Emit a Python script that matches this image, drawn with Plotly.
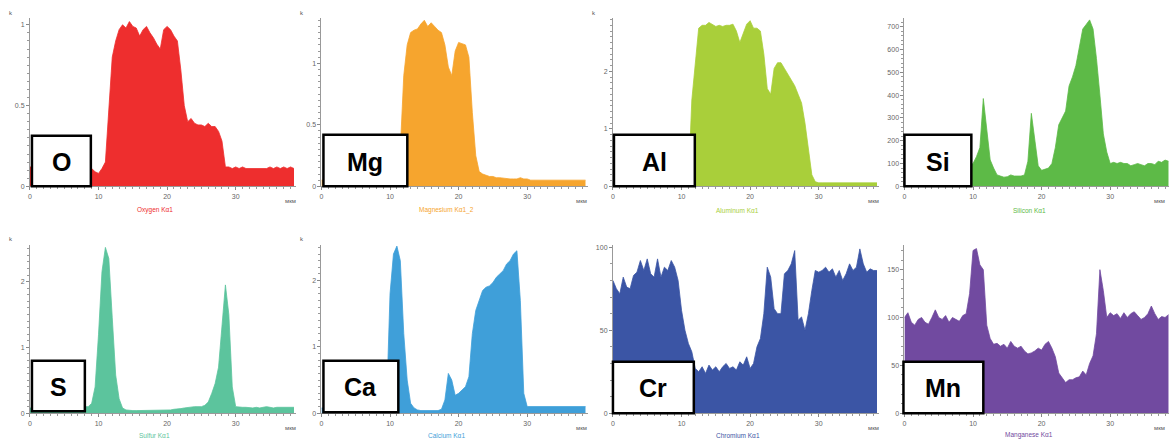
import plotly.graph_objects as go

W, H = 1169, 441

# ---------------- data ----------------
POSITION_UM = [
    0.0, 0.5, 1.0, 1.5, 2.0, 2.5, 3.0, 3.5, 4.0, 4.5,
    5.0, 5.5, 6.0, 6.5, 7.0, 7.5, 8.0, 8.5, 9.0, 9.5,
    10.0, 10.5, 11.0, 11.5, 12.0, 12.5, 13.0, 13.5, 14.0, 14.5,
    15.0, 15.5, 16.0, 16.5, 17.0, 17.5, 18.0, 18.5, 19.0, 19.5,
    20.0, 20.5, 21.0, 21.5, 22.0, 22.5, 23.0, 23.5, 24.0, 24.5,
    25.0, 25.5, 26.0, 26.5, 27.0, 27.5, 28.0, 28.5, 29.0, 29.5,
    30.0, 30.5, 31.0, 31.5, 32.0, 32.5, 33.0, 33.5, 34.0, 34.5,
    35.0, 35.5, 36.0, 36.5, 37.0, 37.5, 38.0, 38.5,
]

oxygen_k = [
    0.12, 0.12, 0.12, 0.12, 0.12, 0.12, 0.12, 0.12, 0.12, 0.12,
    0.12, 0.12, 0.12, 0.12, 0.12, 0.12, 0.12, 0.12, 0.11, 0.09,
    0.08, 0.11, 0.15, 0.45, 0.80, 0.90, 0.97, 1.00, 0.98, 1.02,
    0.99, 0.98, 0.93, 0.97, 0.99, 0.95, 0.92, 0.88, 0.85, 0.97,
    0.99, 0.97, 0.93, 0.90, 0.72, 0.50, 0.40, 0.42, 0.39, 0.38,
    0.38, 0.37, 0.39, 0.37, 0.37, 0.34, 0.28, 0.12, 0.12, 0.11,
    0.12, 0.11, 0.12, 0.11, 0.11, 0.11, 0.11, 0.11, 0.11, 0.11,
    0.12, 0.11, 0.12, 0.11, 0.12, 0.11, 0.12, 0.11,
]

magnesium_k = [
    0.05, 0.05, 0.05, 0.05, 0.05, 0.05, 0.05, 0.05, 0.05, 0.05,
    0.05, 0.05, 0.05, 0.05, 0.05, 0.05, 0.05, 0.05, 0.05, 0.05,
    0.05, 0.05, 0.05, 0.30, 0.90, 1.15, 1.25, 1.27, 1.28, 1.32,
    1.35, 1.30, 1.33, 1.30, 1.27, 1.25, 1.15, 0.97, 0.90, 1.10,
    1.17, 1.16, 1.15, 1.05, 0.60, 0.25, 0.12, 0.10, 0.09, 0.08,
    0.08, 0.07, 0.07, 0.065, 0.065, 0.06, 0.06, 0.06, 0.07, 0.06,
    0.06, 0.05, 0.05, 0.05, 0.05, 0.05, 0.045, 0.045, 0.045, 0.05,
    0.045, 0.05, 0.05, 0.05, 0.045, 0.05, 0.05, 0.05,
]

aluminum_k = [
    0.05, 0.05, 0.05, 0.05, 0.05, 0.05, 0.05, 0.05, 0.05, 0.05,
    0.05, 0.05, 0.05, 0.05, 0.05, 0.05, 0.05, 0.05, 0.05, 0.05,
    0.05, 0.05, 0.05, 1.50, 2.20, 2.75, 2.80, 2.80, 2.85, 2.82,
    2.78, 2.80, 2.78, 2.80, 2.80, 2.82, 2.70, 2.50, 2.65, 2.82,
    2.88, 2.75, 2.75, 2.70, 2.30, 1.70, 1.60, 2.05, 2.15, 2.15,
    2.05, 1.95, 1.85, 1.75, 1.60, 1.45, 1.10, 0.60, 0.20, 0.08,
    0.06, 0.06, 0.06, 0.06, 0.06, 0.06, 0.06, 0.06, 0.06, 0.06,
    0.06, 0.06, 0.06, 0.06, 0.06, 0.06, 0.06, 0.06,
]

silicon_counts = [
    90, 85, 90, 88, 92, 85, 90, 88, 85, 90,
    88, 92, 85, 90, 87, 90, 88, 85, 87, 90,
    100, 130, 170, 385, 250, 116, 80, 50, 45, 40,
    42, 50, 45, 45, 45, 50, 110, 320, 200, 90,
    70, 75, 80, 100, 170, 270, 300, 330, 440, 480,
    530, 620, 690, 710, 730, 690, 560, 400, 230, 150,
    100, 105, 100, 105, 100, 100, 90, 95, 100, 95,
    90, 100, 100, 95, 110, 105, 115, 110,
]

sulfur_k = [
    0.08, 0.08, 0.08, 0.08, 0.08, 0.08, 0.08, 0.08, 0.08, 0.08,
    0.08, 0.08, 0.08, 0.08, 0.08, 0.08, 0.10, 0.10, 0.15, 0.40,
    1.20, 2.15, 2.52, 2.35, 1.45, 0.58, 0.22, 0.08, 0.05, 0.04,
    0.04, 0.04, 0.04, 0.045, 0.05, 0.05, 0.05, 0.05, 0.05, 0.05,
    0.05, 0.05, 0.06, 0.06, 0.07, 0.08, 0.09, 0.10, 0.10, 0.10,
    0.10, 0.12, 0.17, 0.30, 0.45, 0.70, 1.30, 1.95, 1.50, 0.40,
    0.10, 0.09, 0.09, 0.09, 0.08, 0.08, 0.09, 0.08, 0.09, 0.10,
    0.09, 0.08, 0.09, 0.09, 0.08, 0.09, 0.09, 0.09,
]

calcium_k = [
    0.08, 0.08, 0.08, 0.08, 0.08, 0.08, 0.08, 0.08, 0.08, 0.08,
    0.08, 0.08, 0.08, 0.08, 0.08, 0.08, 0.08, 0.08, 0.08, 0.15,
    1.80, 2.40, 2.52, 2.30, 1.20, 0.50, 0.15, 0.08, 0.05, 0.04,
    0.04, 0.04, 0.04, 0.04, 0.04, 0.06, 0.20, 0.60, 0.50, 0.27,
    0.30, 0.35, 0.40, 0.55, 1.20, 1.55, 1.70, 1.85, 1.90, 1.92,
    1.97, 2.05, 2.10, 2.15, 2.25, 2.30, 2.40, 2.45, 1.70, 0.30,
    0.10, 0.10, 0.10, 0.10, 0.10, 0.10, 0.10, 0.10, 0.10, 0.10,
    0.10, 0.10, 0.10, 0.10, 0.10, 0.10, 0.10, 0.10,
]

chromium_counts = [
    80, 75, 72, 82, 76, 75, 83, 85, 92, 86,
    93, 84, 82, 93, 82, 88, 86, 92, 88, 80,
    62, 50, 42, 37, 27, 25, 28, 24, 29, 26,
    28, 25, 28, 30, 27, 28, 26, 31, 29, 34,
    27, 30, 40, 45, 60, 88, 82, 63, 60, 60,
    84, 86, 90, 98, 56, 58, 50, 60, 74, 86,
    85, 86, 88, 85, 87, 82, 86, 80, 84, 90,
    86, 88, 99, 90, 85, 87, 86, 86,
]

manganese_counts = [
    100, 105, 95, 92, 98, 100, 95, 93, 100, 108,
    100, 98, 102, 95, 100, 98, 96, 102, 104, 125,
    170, 172, 155, 150, 92, 78, 72, 73, 70, 72,
    68, 75, 70, 68, 70, 65, 62, 63, 65, 68,
    66, 72, 75, 68, 59, 42, 37, 32, 35, 35,
    37, 38, 44, 40, 52, 60, 83, 150, 128, 100,
    105, 102, 104, 99, 105, 100, 104, 106, 102, 98,
    100, 104, 112, 104, 98, 101, 100, 103,
]

ELEMENTS = ["O", "Mg", "Al", "Si", "S", "Ca", "Cr", "Mn"]
LINE_NAMES = ["Oxygen Kα1", "Magnesium Kα1_2", "Aluminum Kα1", "Silicon Kα1",
              "Sulfur Kα1", "Calcium Kα1", "Chromium Kα1", "Manganese Kα1"]
SERIES = [oxygen_k, magnesium_k, aluminum_k, silicon_counts,
          sulfur_k, calcium_k, chromium_counts, manganese_counts]
X_TICKS = [0, 10, 20, 30]
UNIT_LABEL = "мкм"

# ---------------- styling / layout ----------------
COLORS = ["#ee2e2e", "#f6a52e", "#a9cf3a", "#5dba47",
          "#5cc49d", "#3f9fd9", "#3b55a5", "#714aa0"]
Y_MAX = [1.043, 1.37, 2.93, 739, 2.56, 2.54, 101.5, 176]
Y_DTICK = [0.5, 0.5, 1, 100, 1, 1, 50, 50]
Y_MINOR = [0.05, 0.05, 0.1, 20, 0.1, 0.1, 10, 10]
SHOW_K = [True, True, True, False, True, True, False, False]

PX_PER_UM = 6.87
AXIS_LEFT = [28, 320, 612, 904]
ROW_BOTTOM = [187, 416]
ROW_TOP = [17, 246]
BOXES = [(30, 136, 89, 187), (322, 135, 406, 187), (613, 135, 694, 187), (904, 135, 971, 187),
         (30, 363, 83, 414), (322, 363, 397, 415), (612, 364, 693, 416), (903, 364, 983, 416)]

FONT = "Liberation Sans, Arial, sans-serif"


def px(xp):
    return xp / W


def py(yp):
    return 1 - yp / H


fig = go.Figure()
layout = {}
annotations = []
shapes = []

for i in range(8):
    row, col = divmod(i, 4)
    n = i + 1
    xa = "x" if n == 1 else f"x{n}"
    ya = "y" if n == 1 else f"y{n}"
    left = AXIS_LEFT[col]
    right = min(left + 38.8 * PX_PER_UM, W)
    xmax = (right - left) / PX_PER_UM

    fig.add_trace(go.Scatter(
        x=POSITION_UM, y=SERIES[i], mode="lines",
        line=dict(color=COLORS[i], width=0.8),
        fill="tozeroy", fillcolor=COLORS[i],
        xaxis=xa, yaxis=ya, showlegend=False, hoverinfo="x+y",
    ))

    layout[f"xaxis{n}"] = dict(
        domain=[px(left), px(right)], range=[0, xmax], anchor=ya,
        tickvals=X_TICKS, ticks="outside", ticklen=3, tickcolor="#888",
        showline=True, linecolor="#999", linewidth=1, showgrid=False, zeroline=False,
        tickfont=dict(size=7, color="#666", family=FONT),
        minor=dict(dtick=1, ticks="outside", ticklen=2, tickcolor="#999"),
        fixedrange=True,
    )
    layout[f"yaxis{n}"] = dict(
        domain=[py(ROW_BOTTOM[row]), py(ROW_TOP[row])], range=[0, Y_MAX[i]], anchor=xa,
        dtick=Y_DTICK[i], tick0=0, ticks="outside", ticklen=3, tickcolor="#888",
        showline=True, linecolor="#999", linewidth=1, showgrid=False, zeroline=False,
        tickfont=dict(size=7, color="#666", family=FONT),
        minor=dict(dtick=Y_MINOR[i], ticks="outside", ticklen=2, tickcolor="#999"),
        fixedrange=True,
    )

    # "k" multiplier label
    if SHOW_K[i]:
        annotations.append(dict(
            x=px(left - 19), y=py(12 if row == 0 else 240), xref="paper", yref="paper",
            xanchor="center", yanchor="middle",
            text="k", showarrow=False, font=dict(size=6, color="#555", family=FONT),
        ))
    # unit label
    annotations.append(dict(
        x=px(min(right - 6, W - 10)), y=py(202 if row == 0 else 431), xref="paper", yref="paper",
        xanchor="center", yanchor="middle",
        text=UNIT_LABEL, showarrow=False, font=dict(size=6, color="#555", family=FONT),
    ))
    # series title
    annotations.append(dict(
        x=px(left + 125), y=py(211 if row == 0 else 438), xref="paper", yref="paper",
        xanchor="center", yanchor="middle",
        text=LINE_NAMES[i], showarrow=False, font=dict(size=6.5, color=COLORS[i], family=FONT),
    ))
    # element box
    x0, y0, x1, y1 = BOXES[i]
    shapes.append(dict(
        type="rect", xref="paper", yref="paper",
        x0=px(x0), x1=px(x1), y0=py(y1), y1=py(y0),
        fillcolor="white", line=dict(color="black", width=2.5), layer="above",
    ))
    annotations.append(dict(
        x=px((x0 + x1) / 2), y=py((y0 + y1) / 2 + 1), xref="paper", yref="paper",
        xanchor="center", yanchor="middle",
        text=f"<b>{ELEMENTS[i]}</b>", showarrow=False,
        font=dict(size=25, color="black", family=FONT),
    ))

fig.update_layout(
    width=W, height=H, margin=dict(l=0, r=0, t=0, b=0),
    paper_bgcolor="white", plot_bgcolor="white",
    annotations=annotations, shapes=shapes, showlegend=False,
    font=dict(family=FONT),
    **layout,
)

fig.write_html("out.html")
